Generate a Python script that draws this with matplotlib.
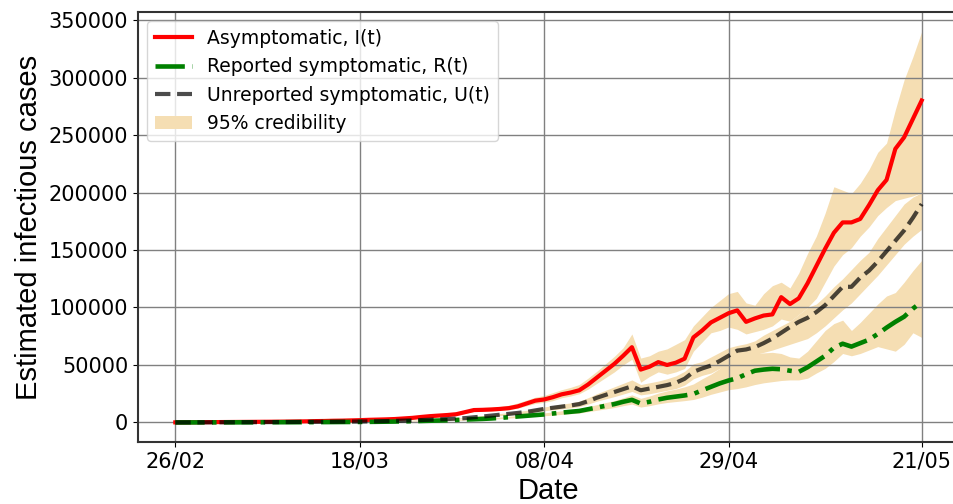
import numpy as np
import pandas as pd
import matplotlib
matplotlib.use("Agg")
import matplotlib.pyplot as plt
import matplotlib.dates as mdates

dates = pd.date_range("2020-02-26", "2020-05-21", freq="D")
tick_dates = ["2020-02-26", "2020-03-18", "2020-04-08", "2020-04-29", "2020-05-21"]

# asymptomatic I(t)
I = [100, 150, 200, 250, 300, 350, 400, 450, 500, 550,
     600, 650, 700, 800, 900, 1000, 1200, 1300, 1500, 1600,
     1800, 2000, 2300, 2500, 2700, 3000, 3500, 4000, 4800, 5500,
     6000, 6500, 7200, 9000, 10800, 11000, 11300, 11800, 12500, 14000,
     16500, 19000, 20000, 22000, 24500, 26000, 28000, 33000, 39000, 45000,
     51000, 58000, 65500, 46000, 48500, 52500, 50000, 52000, 55500, 74000,
     80000, 87000, 91000, 95000, 97500, 87500, 90500, 93000, 94000, 109000,
     103000, 108000, 121000, 136000, 151000, 165000, 174000, 174000, 177000, 189000,
     202000, 211000, 238000, 248000, 264000, 280000]
I_low = [60, 100, 150, 200, 250, 300, 350, 400, 450, 500,
         550, 600, 650, 700, 800, 900, 1000, 1100, 1300, 1400,
         1600, 1800, 2000, 2200, 2400, 2700, 3100, 3600, 4200, 4800,
         5300, 5800, 6400, 8000, 9500, 9800, 10000, 10500, 11000, 12500,
         14500, 16500, 17500, 19000, 21500, 23000, 25000, 29000, 34000, 39000,
         44000, 50000, 55000, 35000, 40000, 44000, 42000, 44000, 47000, 62000,
         70000, 78000, 80000, 83000, 81000, 77000, 79000, 81000, 84000, 90000,
         88000, 94000, 100000, 108000, 122000, 136000, 146000, 152000, 162000, 170000,
         180000, 187000, 193000, 195000, 197000, 200000]
I_high = [150, 200, 250, 300, 350, 400, 450, 500, 550, 600,
          700, 750, 800, 900, 1000, 1200, 1400, 1500, 1700, 1900,
          2100, 2400, 2700, 3000, 3300, 3700, 4200, 4800, 5700, 6500,
          7100, 7700, 8500, 10500, 12500, 13000, 13500, 14000, 15000, 17000,
          19500, 22000, 23500, 26000, 28500, 30500, 33000, 38500, 44500, 51000,
          57500, 65000, 77000, 56000, 58000, 62000, 64000, 68000, 72000, 84000,
          92000, 100000, 106000, 112000, 114000, 104000, 102000, 112000, 119000, 122000,
          117000, 130000, 147000, 162000, 182000, 205000, 202000, 199000, 208000, 220000,
          235000, 243000, 272000, 298000, 318000, 340000]

# reported symptomatic R(t)
R = [30, 40, 50, 60, 70, 80, 100, 110, 130, 150,
     170, 190, 210, 230, 250, 280, 300, 330, 360, 400,
     430, 470, 520, 600, 700, 800, 950, 1100, 1300, 1500,
     1700, 1900, 2200, 2500, 2800, 3100, 3500, 4000, 4600, 5200,
     5800, 6400, 7000, 7800, 8600, 9300, 10000, 11500, 13000, 14500,
     16000, 18000, 19700, 16500, 18000, 20000, 21500, 22500, 23500, 24800,
     28000, 31000, 34000, 36500, 38500, 42000, 45000, 46000, 46700, 46300,
     45000, 44000, 48000, 53000, 58000, 65000, 68500, 66000, 69000, 72000,
     77000, 82500, 87500, 92000, 99000, 105000]
R_low = [20, 30, 40, 50, 60, 65, 80, 90, 110, 120,
         140, 160, 170, 190, 200, 230, 250, 270, 300, 330,
         350, 380, 420, 490, 570, 650, 780, 900, 1060, 1220,
         1400, 1550, 1800, 2050, 2300, 2550, 2900, 3300, 3800, 4300,
         4800, 5300, 5800, 6400, 7000, 7600, 8200, 9400, 10600, 11800,
         13000, 14600, 16000, 13400, 14600, 16200, 17400, 18200, 19000, 20000,
         22000, 24500, 26500, 28500, 29500, 31000, 33000, 34500, 35500, 36500,
         37000, 37000, 38500, 43000, 47000, 53000, 60000, 58000, 60000, 63000,
         66000, 64000, 62000, 68000, 78000, 74000]
R_high = [40, 50, 60, 70, 80, 100, 120, 130, 150, 180,
          200, 220, 250, 270, 300, 330, 360, 390, 430, 470,
          510, 560, 620, 710, 830, 950, 1120, 1300, 1550, 1780,
          2000, 2250, 2600, 2950, 3300, 3650, 4100, 4700, 5400, 6100,
          6800, 7500, 8300, 9200, 10200, 11000, 11900, 13700, 15500, 17300,
          19000, 21500, 24000, 21000, 23000, 25500, 27500, 29000, 31000, 33500,
          38000, 42000, 47000, 54000, 57000, 59000, 60000, 60500, 61000, 60000,
          57000, 56000, 62000, 71000, 80000, 86000, 89000, 80000, 87000, 95000,
          103000, 110000, 113000, 122000, 132000, 141000]

# unreported symptomatic U(t)
U = [50, 60, 80, 100, 120, 150, 180, 200, 230, 260,
     300, 330, 370, 400, 450, 500, 550, 600, 650, 700,
     750, 800, 900, 1000, 1200, 1400, 1600, 1800, 2100, 2400,
     2700, 3000, 3400, 3800, 4500, 5200, 6000, 6800, 7500, 8300,
     9200, 10500, 11800, 12800, 13800, 14800, 16000, 18500, 21500, 24000,
     26500, 29000, 31500, 28000, 29500, 31000, 32500, 34500, 38000, 44000,
     47000, 49500, 53500, 58000, 62500, 63500, 65500, 69000, 73000, 78000,
     83000, 87500, 91000, 96000, 102000, 110000, 118000, 118000, 126000, 132000,
     140000, 149000, 158000, 167000, 178000, 190000]
U_low = [40, 50, 70, 90, 100, 130, 160, 180, 200, 230,
         260, 290, 320, 350, 400, 440, 480, 520, 570, 610,
         650, 700, 780, 870, 1040, 1220, 1400, 1550, 1800, 2050,
         2300, 2600, 2950, 3300, 3900, 4500, 5200, 5900, 6500, 7200,
         8000, 9100, 10200, 11000, 11800, 12700, 13800, 16000, 18500, 20500,
         22500, 24700, 27000, 24000, 25000, 26500, 28000, 29500, 32500, 38000,
         41000, 43000, 47000, 51000, 55000, 57000, 59000, 61000, 63000, 65500,
         68000, 70500, 73000, 78000, 84000, 91000, 98000, 104000, 112000, 120000,
         128000, 137000, 146000, 155000, 162000, 168000]
U_high = [60, 70, 90, 110, 140, 170, 200, 230, 260, 300,
          340, 380, 420, 460, 510, 570, 630, 690, 750, 800,
          860, 920, 1030, 1150, 1380, 1600, 1850, 2100, 2400, 2750,
          3100, 3450, 3900, 4400, 5200, 6000, 6900, 7800, 8600, 9500,
          10600, 12000, 13500, 14700, 15900, 17000, 18500, 21500, 25000, 28000,
          31000, 34000, 37000, 33000, 34500, 36000, 38000, 40500, 44500, 51000,
          53000, 57000, 61000, 65000, 67000, 68500, 71000, 76000, 80000, 84000,
          88000, 94000, 100000, 103000, 110000, 118000, 125000, 133000, 141000, 148000,
          160000, 170000, 180000, 190000, 196000, 200000]

band_color = "wheat"

fig = plt.figure(figsize=(9.54, 5.04), dpi=100)
ax = fig.add_axes([138 / 954, 62 / 504, 821 / 954, 430 / 504])

ax.fill_between(dates, I_low, I_high, color=band_color, lw=0, label="95% credibility")
ax.fill_between(dates, R_low, R_high, color=band_color, lw=0)
ax.fill_between(dates, U_low, U_high, color=band_color, lw=0)

ax.plot(dates, I, color="red", lw=3, label="Asymptomatic, I(t)")
ax.plot(dates, R, color="green", lw=3.3, ls="-.", label="Reported symptomatic, R(t)")
ax.plot(dates, U, color="k", lw=3, ls="--", alpha=0.7,
        label="Unreported symptomatic, U(t)")

ax.set_xticks(pd.to_datetime(tick_dates))
ax.xaxis.set_major_formatter(mdates.DateFormatter("%d/%m"))
ax.set_yticks(np.arange(0, 350001, 50000))
ax.tick_params(labelsize=15)

ax.set_axisbelow("line")
ax.grid(True, color="gray", lw=1)
for s in ax.spines.values():
    s.set_color("#333333")
    s.set_linewidth(1.5)

ax.set_xlabel("Date", fontsize=21, family="Liberation Sans")
ax.set_ylabel("Estimated infectious cases", fontsize=21, family="Liberation Sans")

handles, labels = ax.get_legend_handles_labels()
order = [1, 2, 3, 0]
ax.legend([handles[i] for i in order], [labels[i] for i in order],
          loc="upper left", fontsize=13.5)

fig.savefig("out.png", dpi=100)
